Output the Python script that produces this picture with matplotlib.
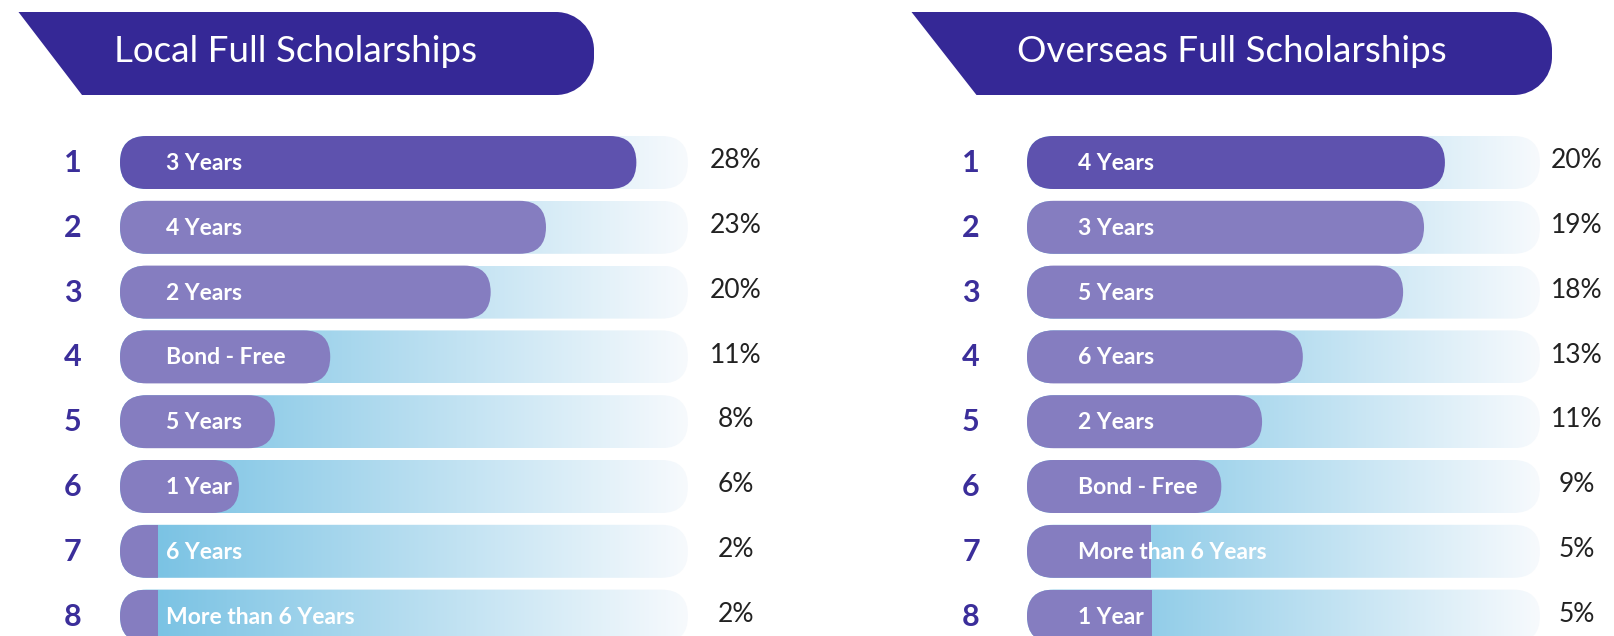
import numpy as np
import matplotlib
matplotlib.use('Agg')
import matplotlib.pyplot as plt
from matplotlib.patches import FancyBboxPatch, Rectangle, PathPatch
from matplotlib.path import Path
from matplotlib.colors import to_rgb

plt.rcParams['font.family'] = ['Lato', 'DejaVu Sans']

# share of scholarships by bond length (%)
titles = ['Local Full Scholarships', 'Overseas Full Scholarships']

local_labels = ['3 Years', '4 Years', '2 Years', 'Bond - Free', '5 Years',
                '1 Year', '6 Years', 'More than 6 Years']
local_values = [28.0, 23.1, 20.1, 11.4, 8.4, 6.45, 2.04, 2.04]

overseas_labels = ['4 Years', '3 Years', '5 Years', '6 Years', '2 Years',
                   'Bond - Free', 'More than 6 Years', '1 Year']
overseas_values = [20.0, 19.0, 18.0, 13.2, 11.25, 9.3, 5.95, 5.99]

W, H = 1615, 636
ROW0 = 162.5      # px, centre of first row
ROW_STEP = 64.8   # px between rows
BAR_PX = 53.0     # bar height px
RAD_PX = BAR_PX / 2

INDIGO = '#352896'
RANK_COL = '#3B2E9A'
TOP_BAR = '#5E52AE'
BAR = '#857DC0'
TRACK_L = '#72BFE2'
TRACK_R = '#F7FAFD'

fig = plt.figure(figsize=(W / 100, H / 100), dpi=100)

# overlay for the title banners
over = fig.add_axes([0, 0, 1, 1])
over.set_xlim(0, W)
over.set_ylim(H, 0)
over.axis('off')


def banner(x_tl, x_bl, x_r, top, bot, r, title, cx):
    k = 0.5523 * r
    verts = [(x_tl, top), (x_r - r, top),
             (x_r - r + k, top), (x_r, top + r - k), (x_r, top + r),
             (x_r, bot - r),
             (x_r, bot - r + k), (x_r - r + k, bot), (x_r - r, bot),
             (x_bl, bot), (x_tl, top)]
    codes = [Path.MOVETO, Path.LINETO,
             Path.CURVE4, Path.CURVE4, Path.CURVE4,
             Path.LINETO,
             Path.CURVE4, Path.CURVE4, Path.CURVE4,
             Path.LINETO, Path.CLOSEPOLY]
    over.add_patch(PathPatch(Path(verts, codes), facecolor=INDIGO, edgecolor='none'))
    over.text(cx, (top + bot) / 2 - 2, title, ha='center', va='center', color='white',
              fontsize=26.5, fontweight='normal')


banner(18.5, 82, 594, 12, 95, 38, titles[0], 296)
banner(911.5, 976.5, 1552, 12, 95, 38, titles[1], 1232)

c0 = np.array(to_rgb(TRACK_L))
c1 = np.array(to_rgb(TRACK_R))
t = np.linspace(0, 1, 256)[:, None]
grad = (c0 * (1 - t) + c1 * t)[None, :, :]


def panel(labels, values, x0, x1, tmax, rank_x, label_x, pct_x):
    ax = fig.add_axes([x0 / W, 0, (x1 - x0) / W, 1])
    ax.axis('off')
    ux = tmax / (x1 - x0)
    uy = 1.0 / ROW_STEP
    h = BAR_PX * uy
    rs = RAD_PX * ux
    asp = uy / ux
    for i, (lab, v) in enumerate(zip(labels, values)):
        track = FancyBboxPatch((0, i - h / 2), tmax, h,
                               boxstyle=f'round,pad=0,rounding_size={rs}',
                               mutation_aspect=asp, fill=False, edgecolor='none')
        ax.add_patch(track)
        ax.imshow(grad, extent=[0, tmax, i + h / 2, i - h / 2], aspect='auto',
                  interpolation='bilinear', clip_path=track, zorder=1)
        col = TOP_BAR if i == 0 else BAR
        if v >= 6:
            ax.add_patch(FancyBboxPatch((0, i - h / 2), v, h,
                                        boxstyle=f'round,pad=0,rounding_size={rs}',
                                        mutation_aspect=asp, facecolor=col,
                                        edgecolor='none', zorder=2))
        else:
            sq = Rectangle((0, i - h / 2), v, h, facecolor=col, edgecolor='none', zorder=2)
            ax.add_patch(sq)
            sq.set_clip_path(track)
        ax.annotate(lab, xy=(0, i), xytext=(label_x - x0, -7.5), textcoords='offset pixels',
                    ha='left', va='baseline', color='white', fontsize=16.5,
                    fontweight='bold', zorder=3)
        ax.annotate(str(i + 1), xy=(0, i), xytext=(rank_x - x0, -9.5),
                    textcoords='offset pixels', ha='center', va='baseline',
                    color=RANK_COL, fontsize=22, fontweight='bold', annotation_clip=False)
        ax.annotate(f'{int(v)}%', xy=(0, i), xytext=(pct_x - x0, -5.8),
                    textcoords='offset pixels', ha='center', va='baseline',
                    color='#222222', fontsize=19, annotation_clip=False)
    ax.set_xlim(0, tmax)
    ax.set_ylim((H - ROW0) / ROW_STEP, -ROW0 / ROW_STEP)


panel(local_labels, local_values, 120, 688, 30.8, 72.5, 166, 736)
panel(overseas_labels, overseas_values, 1027, 1540, 24.55, 971, 1078, 1577)

fig.savefig('out.png', dpi=100)
